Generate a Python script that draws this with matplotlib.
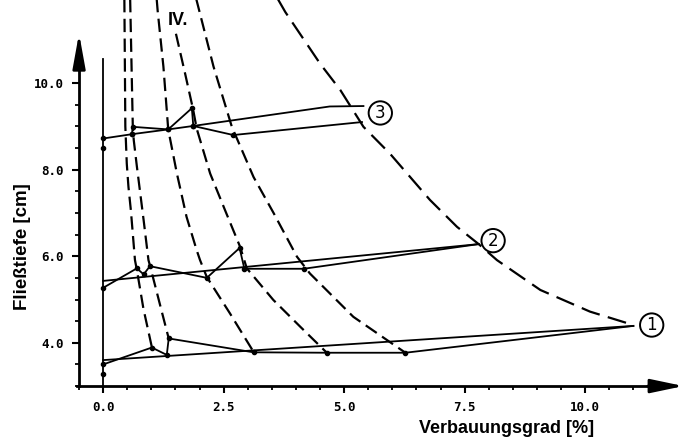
import matplotlib
matplotlib.use('Agg')
import matplotlib.pyplot as plt
import numpy as np

# ---------------- data ----------------
# Series 1 (ends at circle 1)
s1a_x = [0.0, 11.0]
s1a_y = [3.6, 4.39]
s1b_x = [0.0, 1.01, 1.32, 1.36, 3.12, 4.64, 6.27, 11.0]
s1b_y = [3.5, 3.89, 3.72, 4.10, 3.78, 3.77, 3.77, 4.39]
# Series 2 (ends at circle 2)
s2a_x = [0.0, 7.79]
s2a_y = [5.43, 6.28]
s2b_x = [0.0, 0.70, 0.84, 0.97, 2.15, 2.83, 2.93, 4.16, 7.79]
s2b_y = [5.27, 5.72, 5.58, 5.77, 5.50, 6.19, 5.71, 5.71, 6.28]
# Series 3 (ends at circle 3)
s3a_x = [0.0, 0.60, 1.35, 1.87, 4.70, 5.40]
s3a_y = [8.72, 8.82, 8.93, 9.01, 9.46, 9.47]
s3b_x = [0.60, 0.61, 1.35, 1.84, 1.87, 2.70, 5.37]
s3b_y = [8.82, 8.99, 8.93, 9.42, 9.01, 8.80, 9.10]

# extra single points on the zero line
extra_x = [0.0, 0.0]
extra_y = [8.51, 3.29]

# zero line
zero_x = [0.0, 0.0]
zero_y = [3.0, 10.55]

# dashed curves
cA_x = [0.44, 0.45, 0.46, 0.49, 0.525, 0.575, 0.615, 0.66, 0.70, 0.835, 1.01]
cA_y = [11.95, 10.5, 9.0, 8.14, 7.60, 7.06, 6.52, 5.91, 5.68, 4.79, 3.90]
cB_x = [0.56, 0.615, 0.635, 0.70, 0.77, 0.84, 0.94, 0.97, 1.20, 1.36]
cB_y = [11.95, 9.0, 8.68, 8.07, 7.45, 6.83, 5.91, 5.79, 4.79, 4.10]
cC_x = [1.11, 1.13, 1.25, 1.35, 1.53, 1.73, 1.94, 2.01, 2.15, 2.63, 3.12]
cC_y = [11.95, 11.68, 10.38, 8.93, 7.91, 6.91, 6.14, 5.91, 5.52, 4.68, 3.79]
cD_x = [1.51, 1.70, 1.87, 1.94, 2.22, 2.53, 2.84, 2.98, 3.53, 4.09, 4.64]
cD_y = [11.14, 10.22, 9.37, 8.95, 7.91, 7.06, 6.22, 5.72, 4.99, 4.37, 3.77]
cE_x = [1.93, 2.29, 2.67, 3.12, 3.54, 4.02, 4.29, 5.19, 6.27]
cE_y = [11.95, 10.38, 8.99, 7.83, 6.99, 5.99, 5.60, 4.60, 3.77]
cF_x = [3.62, 3.78, 4.50, 4.92, 5.40, 5.95, 6.78, 7.34, 7.79, 8.17, 9.07, 10.10, 11.0]
cF_y = [11.95, 11.64, 10.45, 9.84, 8.99, 8.37, 7.30, 6.68, 6.28, 5.91, 5.22, 4.72, 4.41]

# circled labels
circle_labels = ['1', '2', '3']
circle_x = [11.38, 8.09, 5.75]
circle_y = [4.41, 6.36, 9.31]

x_major = [0.0, 2.5, 5.0, 7.5, 10.0]
x_major_labels = ['0.0', '2.5', '5.0', '7.5', '10.0']
y_major = [4.0, 6.0, 8.0, 10.0]
y_major_labels = ['4.0', '6.0', '8.0', '10.0']
x_minor = list(np.arange(-0.5, 11.51, 0.5))
y_minor = list(np.arange(3.0, 10.51, 0.5))

# ---------------- drawing ----------------
fig = plt.figure(figsize=(6.84, 4.38), dpi=100)
ax = fig.add_axes([0, 0, 1, 1])
ax.set_xlim(-2.14, 12.05)
ax.set_ylim(1.80, 11.92)
ax.set_facecolor('white')

for s in ['top', 'right']:
    ax.spines[s].set_visible(False)
ax.spines['left'].set_position(('data', -0.5))
ax.spines['bottom'].set_position(('data', 3.0))
ax.spines['left'].set_bounds(3.0, 10.6)
ax.spines['bottom'].set_bounds(-0.55, 11.6)
ax.spines['left'].set_linewidth(2.0)
ax.spines['bottom'].set_linewidth(2.0)

# arrow heads
ax.annotate('', xy=(-0.5, 11.15), xytext=(-0.5, 10.3),
            arrowprops=dict(arrowstyle='-|>,head_length=2.1,head_width=0.38',
                            lw=2.0, color='black', shrinkA=0, shrinkB=0,
                            mutation_scale=10))
ax.annotate('', xy=(12.04, 3.0), xytext=(11.3, 3.0),
            arrowprops=dict(arrowstyle='-|>,head_length=2.0,head_width=0.42',
                            lw=2.0, color='black', shrinkA=0, shrinkB=0,
                            mutation_scale=10))

ax.set_xticks(x_major)
ax.set_xticklabels(x_major_labels)
ax.set_xticks(x_minor, minor=True)
ax.set_yticks(y_major)
ax.set_yticklabels(y_major_labels)
ax.set_yticks(y_minor, minor=True)
ax.tick_params(which='major', direction='out', length=5, width=1.5, pad=6)
ax.tick_params(which='minor', direction='out', length=3, width=1.3)
for lab in ax.get_xticklabels() + ax.get_yticklabels():
    lab.set_fontfamily('DejaVu Sans Mono')
    lab.set_fontweight('bold')
    lab.set_fontsize(9)

# dashed curves
dash_small = (6.0, 2.9)
dash_big = (8.6, 3.8)
for cx, cy in [(cA_x, cA_y), (cB_x, cB_y), (cC_x, cC_y), (cD_x, cD_y), (cE_x, cE_y)]:
    ax.plot(cx, cy, color='black', lw=1.6, dashes=dash_small, zorder=2)
ax.plot(cF_x, cF_y, color='black', lw=1.6, dashes=dash_big, zorder=2)

# zero line
ax.plot(zero_x, zero_y, color='black', lw=1.3, zorder=3)

# solid series lines
for lx, ly in [(s1a_x, s1a_y), (s2a_x, s2a_y)]:
    ax.plot(lx, ly, color='black', lw=1.3, zorder=3)
for lx, ly in [(s1b_x, s1b_y), (s2b_x, s2b_y), (s3b_x, s3b_y)]:
    ax.plot(lx, ly, color='black', lw=1.3, marker='o', ms=3,
            markevery=slice(0, len(lx) - 1), zorder=3)
ax.plot(s3a_x, s3a_y, color='black', lw=1.3, marker='o', ms=3,
        markevery=[0, 1, 2, 3], zorder=3)
ax.plot(extra_x, extra_y, 'o', color='black', ms=3, zorder=3)

# circled labels
for t, cx, cy in zip(circle_labels, circle_x, circle_y):
    ax.text(cx, cy, t, ha='center', va='center', fontsize=12,
            family='DejaVu Sans',
            bbox=dict(boxstyle='circle,pad=0.16', fc='white', ec='black', lw=1.4),
            zorder=5)

# texts
ax.text(1.56, 11.45, 'IV.', ha='center', va='center', fontsize=13,
        fontweight='bold', family='Liberation Sans')
ax.text(8.36, 2.03, 'Verbauungsgrad [%]', ha='center', va='center',
        fontsize=13, fontweight='bold', family='Liberation Sans')
ax.text(-1.68, 6.23, 'Fließtiefe [cm]', ha='center', va='center',
        rotation=90, fontsize=13.5, fontweight='bold', family='Liberation Sans')

fig.savefig('out.png', dpi=100, facecolor='white')
